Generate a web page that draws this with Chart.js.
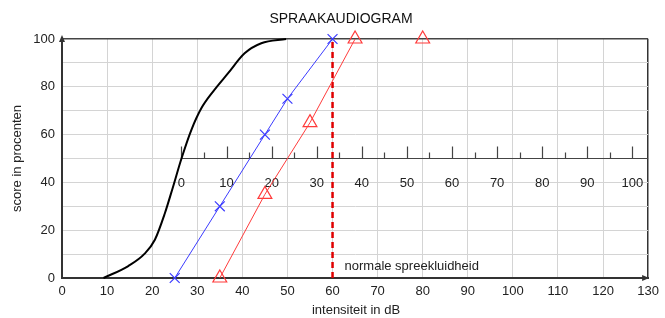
<!DOCTYPE html>
<html>
<head>
<meta charset="utf-8">
<script src="https://cdn.jsdelivr.net/npm/chart.js@4"></script>
<style>
  html, body { margin: 0; padding: 0; background: #fff; }
  #wrap { width: 665px; height: 318px; }
</style>
</head>
<body>
<div id="wrap"><canvas id="audioChart" width="665" height="318"></canvas></div>
<script>
// Normal hearing curve (black)
const normalX = [9.2, 14.7, 18.4, 20.6, 22.8, 24.6, 26.5, 28.7, 30.9, 33.5, 36.8, 40.5, 44.2, 49.7];
const normalY = [0, 5, 10.3, 16, 27, 38, 50, 62, 71, 78, 85.6, 94, 98.2, 100];

// Blue series (crosses)
const blueX = [25, 35, 45, 50, 60];
const blueY = [0, 30, 60, 75, 100];

// Red series (triangles)
const redX = [35, 45, 55, 65];
const redY = [0, 35, 65, 100];
const redLoneX = [80];
const redLoneY = [100];

// Normal speech level marker
const normalSpeechDb = 60;

// Secondary scale drawn at score 50
const secondaryOffset = 26.5;
const secondaryTicks = [0, 10, 20, 30, 40, 50, 60, 70, 80, 90, 100];
const secondaryMinor = [5, 15, 25, 35, 45, 55, 65, 75, 85, 95];

const toPoints = (xs, ys) => xs.map((x, i) => ({ x: x, y: ys[i] }));

const FONT = "'Liberation Sans', Arial, sans-serif";

const extras = {
    id: 'extras',
    beforeDatasetsDraw(chart) {
        const c = chart.ctx;
        const xs = chart.scales.x, ys = chart.scales.y;
        const yLine = ys.getPixelForValue(50);
        c.save();
        c.strokeStyle = '#444';
        c.lineWidth = 1.2;
        c.beginPath();
        c.moveTo(xs.getPixelForValue(secondaryOffset), yLine);
        c.lineTo(xs.right, yLine);
        c.stroke();
        // major ticks
        secondaryTicks.forEach(v => {
            const px = Math.round(xs.getPixelForValue(secondaryOffset + v)) + 0.5;
            c.beginPath();
            c.moveTo(px, yLine);
            c.lineTo(px, yLine - 12);
            c.stroke();
        });
        secondaryMinor.forEach(v => {
            const px = Math.round(xs.getPixelForValue(secondaryOffset + v)) + 0.5;
            c.beginPath();
            c.moveTo(px, yLine);
            c.lineTo(px, yLine - 6);
            c.stroke();
        });
        c.fillStyle = '#222';
        c.font = '13px ' + FONT;
        c.textAlign = 'center';
        c.textBaseline = 'middle';
        secondaryTicks.forEach(v => {
            c.fillText(String(v), xs.getPixelForValue(secondaryOffset + v), yLine + 25);
        });
        c.restore();
    },
    afterDraw(chart) {
        const c = chart.ctx;
        const xs = chart.scales.x, ys = chart.scales.y;
        const area = chart.chartArea;
        c.save();
        c.fillStyle = '#111';
        c.font = '14px ' + FONT;
        c.textAlign = 'center';
        c.textBaseline = 'middle';
        c.fillText('SPRAAKAUDIOGRAM', 341, 19);

        c.font = '13px ' + FONT;
        c.fillStyle = '#222';
        c.fillText('intensiteit in dB', 356, 310);

        c.save();
        c.translate(17, (area.top + area.bottom) / 2);
        c.rotate(-Math.PI / 2);
        c.fillText('score in procenten', 0, 0);
        c.restore();

        c.textAlign = 'left';
        c.fillText('normale spreekluidheid', xs.getPixelForValue(normalSpeechDb) + 12, ys.getPixelForValue(5));

        // arrow heads on axes
        c.fillStyle = '#333';
        c.beginPath();
        c.moveTo(area.left, area.top - 4);
        c.lineTo(area.left - 3, area.top + 3);
        c.lineTo(area.left + 3, area.top + 3);
        c.closePath();
        c.fill();
        c.beginPath();
        c.moveTo(area.right + 1, area.bottom);
        c.lineTo(area.right - 6, area.bottom - 3);
        c.lineTo(area.right - 6, area.bottom + 3);
        c.closePath();
        c.fill();
        c.restore();
    }
};

const ctx = document.getElementById('audioChart').getContext('2d');
const audioChart = new Chart(ctx, {
    type: 'scatter',
    data: {
        datasets: [
            {
                label: 'normaal',
                data: toPoints(normalX, normalY),
                showLine: true,
                borderColor: '#000',
                borderWidth: 2,
                pointRadius: 0,
                cubicInterpolationMode: 'monotone'
            },
            {
                label: 'blauw',
                data: toPoints(blueX, blueY),
                showLine: true,
                borderColor: '#3b3bff',
                borderWidth: 1,
                pointStyle: 'crossRot',
                pointRadius: 7,
                pointBorderColor: '#3b3bff',
                pointBorderWidth: 1.2
            },
            {
                label: 'rood',
                data: toPoints(redX, redY),
                showLine: true,
                borderColor: '#ff3b3b',
                borderWidth: 1,
                pointStyle: 'triangle',
                pointRadius: 8,
                pointBackgroundColor: 'rgba(0,0,0,0)',
                pointBorderColor: '#ff3b3b',
                pointBorderWidth: 1.2
            },
            {
                label: 'rood los',
                data: toPoints(redLoneX, redLoneY),
                showLine: false,
                pointStyle: 'triangle',
                pointRadius: 8,
                pointBackgroundColor: 'rgba(0,0,0,0)',
                pointBorderColor: '#ff3b3b',
                pointBorderWidth: 1.2
            },
            {
                label: 'normale spreekluidheid',
                data: [{ x: normalSpeechDb, y: 0 }, { x: normalSpeechDb, y: 100 }],
                showLine: true,
                borderColor: '#e00000',
                borderWidth: 2.5,
                borderDash: [6, 4],
                pointRadius: 0
            }
        ]
    },
    options: {
        responsive: false,
        animation: false,
        clip: false,
        layout: { padding: { top: 39, right: 15, left: 0, bottom: 0 } },
        plugins: {
            legend: { display: false },
            tooltip: { enabled: false }
        },
        scales: {
            x: {
                type: 'linear',
                min: 0,
                max: 130,
                afterFit: s => { s.height = 40; },
                ticks: {
                    stepSize: 10,
                    padding: 6,
                    color: '#222',
                    font: { family: FONT, size: 13 }
                },
                grid: {
                    color: c => c.tick.value === 130 ? '#333' : '#d4d4d4',
                    lineWidth: c => c.tick.value === 130 ? 1.5 : 1,
                    tickLength: 0
                },
                border: { color: '#333', width: 2 }
            },
            y: {
                min: 0,
                max: 100,
                afterFit: s => { s.width = 62; },
                ticks: {
                    stepSize: 10,
                    padding: 7,
                    color: '#222',
                    font: { family: FONT, size: 13 },
                    callback: v => v % 20 === 0 ? v : ''
                },
                grid: {
                    color: c => c.tick.value === 100 ? '#444' : '#d4d4d4',
                    lineWidth: c => c.tick.value === 100 ? 1.5 : 1,
                    tickLength: 0
                },
                border: { color: '#333', width: 2 }
            }
        }
    },
    plugins: [extras]
});
</script>
</body>
</html>
